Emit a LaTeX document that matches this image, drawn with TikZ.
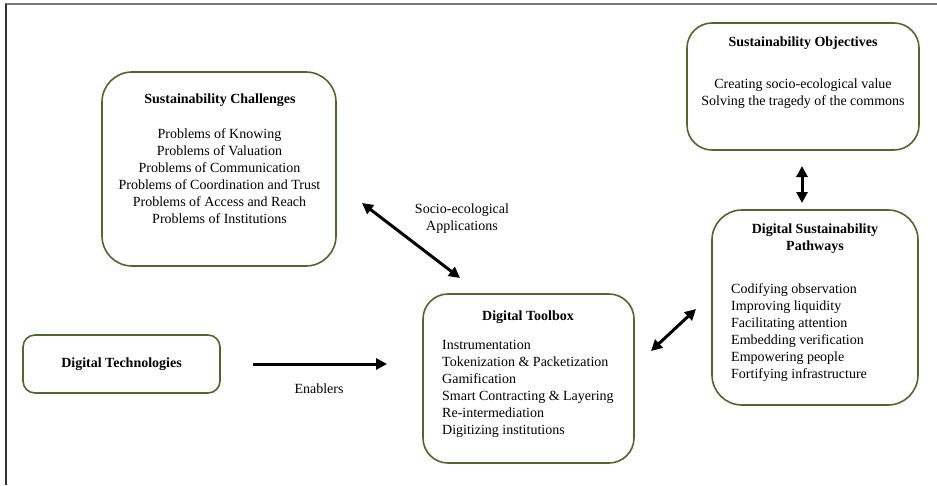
\documentclass[tikz,border=0pt]{standalone}
\usepackage{fontspec}
\setmainfont{Liberation Serif}
\usetikzlibrary{arrows.meta}
\definecolor{boxgreen}{RGB}{78,104,46}
\definecolor{framegray}{RGB}{120,120,120}
\definecolor{framedark}{RGB}{50,50,50}
\tikzset{
  box/.style={draw=boxgreen, line width=1.6pt, rounded corners=#1, inner sep=0pt},
  box/.default=25pt,
  txt/.style={font=\fontsize{14pt}{17pt}\selectfont, inner sep=0pt},
  ttl/.style={font=\fontsize{14pt}{17pt}\selectfont\bfseries, inner sep=0pt, align=center},
  conn/.style={line width=3pt, -{Triangle[length=11pt,width=11pt]}},
  dconn/.style={line width=3pt, {Triangle[length=11pt,width=11pt]}-{Triangle[length=11pt,width=11pt]}}
}
\begin{document}
\begin{tikzpicture}[x=1pt,y=-1pt]
\useasboundingbox (0,0) rectangle (937,485);
\fill[white] (0,0) rectangle (937,485);
% frame (top and left edges)
\draw[framegray, line width=2pt] (5,4) -- (937,4);
\draw[framedark, line width=2pt] (5.5,4) -- (5.5,485);

% boxes
\node[box=30pt, minimum width=234pt, minimum height=194pt] (chal) at (219,169) {};
\node[box=12pt, minimum width=197pt, minimum height=58pt] (tech) at (121.5,364) {};
\node[box=25pt, minimum width=211pt, minimum height=169pt] (tool) at (528.5,378.5) {};
\node[box=25pt, minimum width=232pt, minimum height=127pt] (obj) at (803,86.5) {};
\node[box=30pt, minimum width=206pt, minimum height=195pt] (path) at (815,307.5) {};

% texts
\node[ttl] (chaltitle) at (220,100) {Sustainability Challenges};
\node[txt, align=center] (challist) at (219.5,176) {Problems of Knowing\\Problems of Valuation\\Problems of Communication\\Problems of Coordination and Trust\\Problems of Access and Reach\\Problems of Institutions};

\node[ttl] (techtitle) at (121.5,364) {Digital Technologies};

\node[ttl] (tooltitle) at (528,317) {Digital Toolbox};
\node[txt, align=left, anchor=west] (toollist) at (442,389) {Instrumentation\\Tokenization \& Packetization\\Gamification\\Smart Contracting \& Layering\\Re-intermediation\\Digitizing institutions};

\node[ttl] (objtitle) at (803,43) {Sustainability Objectives};
\node[txt, align=center] (objlist) at (803,93.5) {Creating socio-ecological value\\Solving the tragedy of the commons};

\node[ttl] (pathtitle) at (815,239) {Digital Sustainability\\Pathways};
\node[txt, align=left, anchor=west] (pathlist) at (731,332.5) {Codifying observation\\Improving liquidity\\Facilitating attention\\Embedding verification\\Empowering people\\Fortifying infrastructure};

\node[txt] (enablers) at (319,389) {Enablers};
\node[txt, align=center] (socio) at (462,218.5) {Socio-ecological\\Applications};

% connector end points
\coordinate (a1s) at (362,203);
\coordinate (a1e) at (460,278);
\coordinate (a2s) at (651,351);
\coordinate (a2e) at (696,309);
\coordinate (a3s) at (802,166);
\coordinate (a3e) at (802,203);
\coordinate (a4s) at (253,364);
\coordinate (a4e) at (387,364);

\draw[dconn] (a1s) -- (a1e);
\draw[dconn] (a2s) -- (a2e);
\draw[dconn] (a3s) -- (a3e);
\draw[conn] (a4s) -- (a4e);
\end{tikzpicture}
\end{document}
